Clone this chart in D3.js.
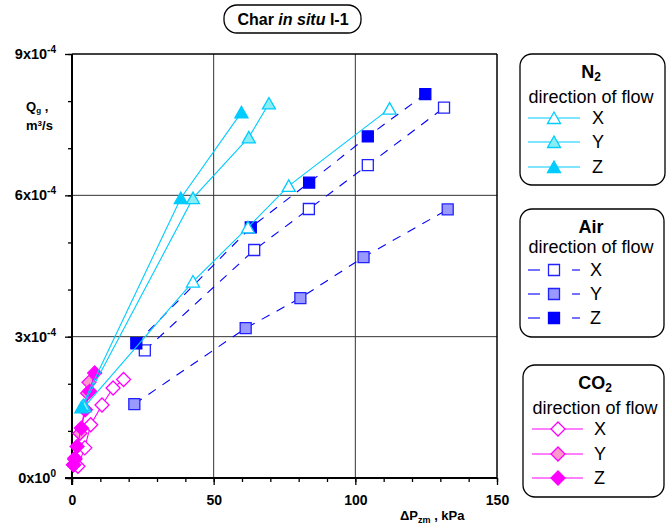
<!DOCTYPE html>
<html><head><meta charset="utf-8">
<script src="https://cdn.jsdelivr.net/npm/d3@7"></script>
<style>body{margin:0;background:#fff}svg{font-family:"Liberation Sans",Arial,sans-serif}</style>
</head><body><svg id="c" width="671" height="525"></svg>
<script>
// ---- data (ΔP in kPa, Q in m3/s) ----
const n2X_dP = [4.5, 42.7, 62.1, 76.5, 112.1];
const n2X_Q  = [1.52e-4, 4.17e-4, 5.32e-4, 6.20e-4, 7.84e-4];
const n2Y_dP = [4.0, 42.7, 62.4, 69.5];
const n2Y_Q  = [1.55e-4, 5.94e-4, 7.23e-4, 7.95e-4];
const n2Z_dP = [3.3, 38.4, 59.8];
const n2Z_Q  = [1.50e-4, 5.94e-4, 7.76e-4];

const airX_dP = [25.7, 64.3, 83.6, 104.4, 131.3];
const airX_Q  = [2.71e-4, 4.84e-4, 5.71e-4, 6.64e-4, 7.86e-4];
const airY_dP = [22.0, 61.3, 80.6, 102.9, 132.6];
const airY_Q  = [1.57e-4, 3.18e-4, 3.82e-4, 4.69e-4, 5.70e-4];
const airZ_dP = [22.7, 63.1, 83.7, 104.4, 124.7];
const airZ_Q  = [2.86e-4, 5.32e-4, 6.27e-4, 7.25e-4, 8.15e-4];

const co2X_dP = [2.1, 4.5, 6.6, 10.6, 14.5, 18.2];
const co2X_Q  = [0.25e-4, 0.64e-4, 1.13e-4, 1.55e-4, 1.91e-4, 2.09e-4];
const co2Y_dP = [0.5, 1.0, 2.8, 4.5, 5.5, 6.0];
const co2Y_Q  = [0.28e-4, 0.40e-4, 0.95e-4, 1.45e-4, 1.80e-4, 2.03e-4];
const co2Z_dP = [0.6, 1.0, 1.8, 3.3, 4.7, 6.2, 8.0];
const co2Z_Q  = [0.28e-4, 0.42e-4, 0.67e-4, 1.06e-4, 1.45e-4, 1.84e-4, 2.23e-4];

const xTicks = [0, 50, 100, 150];
const xTickLabels = ["0", "50", "100", "150"];
const yTicks = [0, 3e-4, 6e-4, 9e-4];
const yTickMantissa = ["0", "3", "6", "9"];
const yTickExponent = ["0", "-4", "-4", "-4"];
const directions = ["X", "Y", "Z"];

// ---- styles ----
const gasStyle = {
  N2:  {line: "#00CCFF", dash: null, shape: "tri",
        fills: ["#FFFFFF", "#88EEF4", "#00CCFF"], strokes: ["#00CCFF", "#00CCFF", "#00CCFF"]},
  Air: {line: "#0000FF", dash: "9,8", shape: "sq",
        fills: ["#FFFFFF", "#9999FF", "#0000FF"], strokes: ["#2222FF", "#2222FF", "#0000FF"]},
  CO2: {line: "#FF00FF", dash: null, shape: "dia",
        fills: ["#FFFFFF", "#FF99CC", "#FF00FF"], strokes: ["#FF00FF", "#FF00FF", "#FF00FF"]}
};
const shapes = {
  tri: "M0,-6 L6.5,5.5 L-6.5,5.5 Z",
  sq: "M-5.5,-5.5 H5.5 V5.5 H-5.5 Z",
  dia: "M0,-7 L7,0 L0,7 L-7,0 Z"
};

const series = [
  {gas: "CO2", dir: 0, dP: co2X_dP, Q: co2X_Q},
  {gas: "CO2", dir: 1, dP: co2Y_dP, Q: co2Y_Q},
  {gas: "CO2", dir: 2, dP: co2Z_dP, Q: co2Z_Q},
  {gas: "Air", dir: 0, dP: airX_dP, Q: airX_Q},
  {gas: "Air", dir: 1, dP: airY_dP, Q: airY_Q},
  {gas: "Air", dir: 2, dP: airZ_dP, Q: airZ_Q},
  {gas: "N2", dir: 0, dP: n2X_dP, Q: n2X_Q},
  {gas: "N2", dir: 1, dP: n2Y_dP, Q: n2Y_Q},
  {gas: "N2", dir: 2, dP: n2Z_dP, Q: n2Z_Q}
];

const svg = d3.select("#c");
const x = d3.scaleLinear().domain([0, 150]).range([72, 497]);
const y = d3.scaleLinear().domain([0, 9e-4]).range([478, 54]);

// grid
const grid = svg.append("g");
grid.selectAll("line.v").data([50, 100]).join("line")
  .attr("x1", d => x(d)).attr("x2", d => x(d)).attr("y1", y(0)).attr("y2", y(9e-4))
  .attr("stroke", "#333").attr("stroke-width", 1);
grid.selectAll("line.h").data([3e-4, 6e-4]).join("line").attr("class", "h")
  .attr("x1", x(0)).attr("x2", x(150)).attr("y1", d => y(d)).attr("y2", d => y(d))
  .attr("stroke", "#333").attr("stroke-width", 1);
// frame top/right
svg.append("line").attr("x1", x(0)).attr("x2", x(150)).attr("y1", y(9e-4)).attr("y2", y(9e-4))
  .attr("stroke", "#000").attr("stroke-width", 1.5);
svg.append("line").attr("x1", x(150)).attr("x2", x(150)).attr("y1", y(0)).attr("y2", y(9e-4))
  .attr("stroke", "#000").attr("stroke-width", 1.5);

// axes
const xMinor = d3.range(0, 151, 10);
const yMinor = d3.range(0, 9.01e-4, 1e-4);
const xAxisMinor = svg.append("g").attr("transform", `translate(0,${y(0)})`)
  .call(d3.axisBottom(x).tickValues(xMinor).tickSize(4).tickFormat(""));
const xAxis = svg.append("g").attr("transform", `translate(0,${y(0)})`)
  .call(d3.axisBottom(x).tickValues(xTicks).tickSize(7).tickPadding(10)
    .tickFormat((d, i) => xTickLabels[i]));
const yAxisMinor = svg.append("g").attr("transform", `translate(${x(0)},0)`)
  .call(d3.axisLeft(y).tickValues(yMinor).tickSize(4).tickFormat(""));
const yAxis = svg.append("g").attr("transform", `translate(${x(0)},0)`)
  .call(d3.axisLeft(y).tickValues(yTicks).tickSize(7).tickFormat(""));
[xAxisMinor, xAxis, yAxisMinor, yAxis].forEach(g => {
  g.select(".domain").remove();
  g.selectAll(".tick line").attr("stroke", "#000").attr("stroke-width", 1.3);
});
xAxis.selectAll("text").attr("font-size", 14).attr("font-weight", "bold").attr("fill", "#000")
  .attr("font-family", "Liberation Sans, Arial, sans-serif");
svg.append("line").attr("x1", x(0) - 7).attr("x2", x(150)).attr("y1", y(0)).attr("y2", y(0))
  .attr("stroke", "#000").attr("stroke-width", 2);
svg.append("line").attr("x1", x(0)).attr("x2", x(0)).attr("y1", y(0) + 7).attr("y2", y(9e-4))
  .attr("stroke", "#000").attr("stroke-width", 2);

// y tick labels with superscript
yTicks.forEach((v, i) => {
  const t = svg.append("text").attr("x", 56).attr("y", y(v) + 5).attr("text-anchor", "end")
    .attr("font-size", 14.5).attr("font-weight", "bold");
  t.append("tspan").text(yTickMantissa[i] + "x10");
  t.append("tspan").attr("dy", -6).attr("font-size", 10).text(yTickExponent[i]);
});

// axis titles
const yl = svg.append("text").attr("x", 26).attr("y", 111).attr("font-size", 13).attr("font-weight", "bold");
yl.append("tspan").text("Q");
yl.append("tspan").attr("dy", 2).attr("font-size", 8).text("g");
yl.append("tspan").attr("dy", -2).text(" ,");
const yl2 = svg.append("text").attr("x", 26).attr("y", 130).attr("font-size", 13).attr("font-weight", "bold");
yl2.append("tspan").text("m");
yl2.append("tspan").attr("dy", -4).attr("font-size", 8).text("3");
yl2.append("tspan").attr("dy", 4).text("/s");

const xl = svg.append("text").attr("x", 400).attr("y", 520).attr("font-size", 13).attr("font-weight", "bold");
xl.append("tspan").text("\u0394P");
xl.append("tspan").attr("dy", 3).attr("font-size", 9).text("zm");
xl.append("tspan").attr("dy", -3).text(" , kPa");

// title
svg.append("rect").attr("x", 224).attr("y", 5).attr("width", 137).attr("height", 28).attr("rx", 13)
  .attr("fill", "#fff").attr("stroke", "#000").attr("stroke-width", 1.3);
const tt = svg.append("text").attr("x", 293).attr("y", 25).attr("text-anchor", "middle")
  .attr("font-size", 16).attr("font-weight", "bold");
tt.append("tspan").text("Char ");
tt.append("tspan").attr("font-style", "italic").text("in situ");
tt.append("tspan").text(" I-1");

// series
const line = d3.line().x(d => x(d[0])).y(d => y(d[1]));
const plot = svg.append("g");
series.forEach(s => {
  const st = gasStyle[s.gas];
  const pts = s.dP.map((d, i) => [d, s.Q[i]]);
  plot.append("path").datum(pts).attr("d", line).attr("fill", "none")
    .attr("stroke", st.line).attr("stroke-width", 1.1)
    .attr("stroke-dasharray", st.dash);
  plot.selectAll(null).data(pts).join("path")
    .attr("d", shapes[st.shape])
    .attr("transform", d => `translate(${x(d[0])},${y(d[1])})`)
    .attr("fill", st.fills[s.dir]).attr("stroke", st.strokes[s.dir]).attr("stroke-width", 1.3);
});

// legends
const legends = [
  {gas: "N2", box: [520, 54, 145, 131], titleY: 78, subY: 103, cx: 591, rows: [118, 142, 167],
   lx: [528, 580], mx: 554, tx: 592},
  {gas: "Air", box: [520, 209, 144, 128], titleY: 233, subY: 253, cx: 591, rows: [270, 294, 318],
   lx: [528, 580], mx: 554, tx: 590},
  {gas: "CO2", box: [523, 365, 141, 132], titleY: 389, subY: 414, cx: 595, rows: [429, 454, 478],
   lx: [532, 583], mx: 558, tx: 594}
];
legends.forEach(L => {
  const st = gasStyle[L.gas];
  const g = svg.append("g");
  g.append("rect").attr("x", L.box[0]).attr("y", L.box[1]).attr("width", L.box[2]).attr("height", L.box[3])
    .attr("rx", 12).attr("fill", "#fff").attr("stroke", "#000").attr("stroke-width", 1.3);
  const t = g.append("text").attr("x", L.cx).attr("y", L.titleY).attr("text-anchor", "middle")
    .attr("font-size", 18).attr("font-weight", "bold");
  if (L.gas === "N2") { t.append("tspan").text("N"); t.append("tspan").attr("dy", 3).attr("font-size", 12).text("2"); }
  else if (L.gas === "CO2") { t.append("tspan").text("CO"); t.append("tspan").attr("dy", 3).attr("font-size", 12).text("2"); }
  else t.text("Air");
  g.append("text").attr("x", L.cx).attr("y", L.subY).attr("text-anchor", "middle")
    .attr("font-size", 18).text("direction of flow");
  directions.forEach((d, i) => {
    const yy = L.rows[i];
    if (st.dash) {
      g.append("line").attr("x1", L.lx[0]).attr("x2", L.lx[0] + 12).attr("y1", yy).attr("y2", yy)
        .attr("stroke", st.line).attr("stroke-width", 1.1);
      g.append("line").attr("x1", L.lx[1] - 8).attr("x2", L.lx[1]).attr("y1", yy).attr("y2", yy)
        .attr("stroke", st.line).attr("stroke-width", 1.1);
    } else {
      g.append("line").attr("x1", L.lx[0]).attr("x2", L.lx[1]).attr("y1", yy).attr("y2", yy)
        .attr("stroke", st.line).attr("stroke-width", 1.1);
    }
    g.append("path").attr("d", shapes[st.shape]).attr("transform", `translate(${L.mx},${yy})`)
      .attr("fill", st.fills[i]).attr("stroke", st.strokes[i]).attr("stroke-width", 1.3);
    g.append("text").attr("x", L.tx).attr("y", yy + 6).attr("font-size", 18).text(d);
  });
});
</script></body></html>
